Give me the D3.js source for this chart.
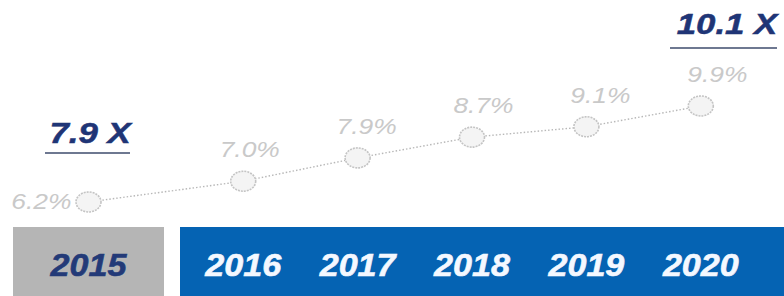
<!DOCTYPE html>
<html><head><meta charset="utf-8">
<script src="https://cdn.jsdelivr.net/npm/d3@7"></script>
<style>html,body{margin:0;padding:0;background:#fff;overflow:hidden}</style>
</head><body>
<svg id="chart" width="784" height="296"></svg>
<script>
const baseYear = [2015];
const forecastYears = [2016, 2017, 2018, 2019, 2020];
const years = baseYear.concat(forecastYears);
const growthPct = [6.2, 7.0, 7.9, 8.7, 9.1, 9.9];
const multipleYears = [2015, 2020];
const multipleValues = [7.9, 10.1];

const svg = d3.select("#chart");
const font = "'Liberation Sans', Arial, sans-serif";

const xBase = d3.scaleBand().domain(baseYear).range([13, 164]);
const xFc = d3.scaleBand().domain(forecastYears).range([186, 758]);
const xPos = y => (baseYear.includes(y) ? xBase(y) + xBase.bandwidth() / 2 : xFc(y) + xFc.bandwidth() / 2);
const yScale = d3.scaleLinear().domain([6.2, 9.9]).range([202, 106]);

// panels
svg.append("rect").attr("x", xBase.range()[0]).attr("y", 227).attr("width", xBase.range()[1] - xBase.range()[0]).attr("height", 69).attr("fill", "#b5b5b5");
svg.append("rect").attr("x", 180).attr("y", 227).attr("width", 604).attr("height", 69).attr("fill", "#0563b3");

// year labels
svg.selectAll("text.year").data(years).join("text")
  .attr("class", "year")
  .attr("transform", d => `translate(${xPos(d)},276) scale(1.1,1)`)
  .attr("text-anchor", "middle")
  .attr("font-family", font).attr("font-weight", "bold").attr("font-style", "italic")
  .attr("font-size", 31)
  .attr("fill", d => baseYear.includes(d) ? "#233a78" : "#f4f8ff")
  .attr("stroke", d => baseYear.includes(d) ? "#233a78" : "#f4f8ff").attr("stroke-width", 0.6)
  .text(d => d);

// dotted line
const pts = years.map((y, i) => [xPos(y), yScale(growthPct[i])]);
svg.append("path").attr("d", d3.line()(pts))
  .attr("fill", "none").attr("stroke", "#b8b8b8").attr("stroke-width", 1.4).attr("stroke-dasharray", "1.5,2");

// markers
svg.selectAll("ellipse").data(years).join("ellipse")
  .attr("cx", d => xPos(d)).attr("cy", (d, i) => yScale(growthPct[i]))
  .attr("rx", 12.5).attr("ry", 10)
  .attr("fill", "#f4f4f4").attr("stroke", "#c4c4c4").attr("stroke-width", 1.6).attr("stroke-dasharray", "2,1");

// percent labels
svg.selectAll("text.pct").data(years).join("text")
  .attr("class", "pct")
  .attr("transform", (d, i) => i === 0
      ? `translate(${xPos(d) - 17},${yScale(growthPct[i]) + 7}) scale(1.2,1)`
      : `translate(${xPos(d) + 4 + i * 2.5},${yScale(growthPct[i]) - 24}) scale(1.2,1)`)
  .attr("text-anchor", (d, i) => i === 0 ? "end" : "middle")
  .attr("font-family", font).attr("font-style", "italic").attr("font-size", 22)
  .attr("fill", "#c9c9c9")
  .text((d, i) => growthPct[i].toFixed(1) + "%");

// multiple annotations
const multPos = [{x: 90, y: 143, u: 153, x0: 45, x1: 130}, {x: 727, y: 34, u: 48, x0: 670, x1: 777}];
multipleValues.forEach((v, i) => {
  const p = multPos[i];
  svg.append("text")
    .attr("transform", `translate(${p.x},${p.y}) scale(1.2,1)`)
    .attr("text-anchor", "middle")
    .attr("font-family", font).attr("font-weight", "bold").attr("font-style", "italic")
    .attr("font-size", 29).attr("fill", "#1f3576")
    .attr("stroke", "#1f3576").attr("stroke-width", 0.5)
    .text(v.toFixed(1) + " X");
  svg.append("line").attr("x1", p.x0).attr("x2", p.x1).attr("y1", p.u).attr("y2", p.u)
    .attr("stroke", "#6e7891").attr("stroke-width", 2);
});
</script>
</body></html>
